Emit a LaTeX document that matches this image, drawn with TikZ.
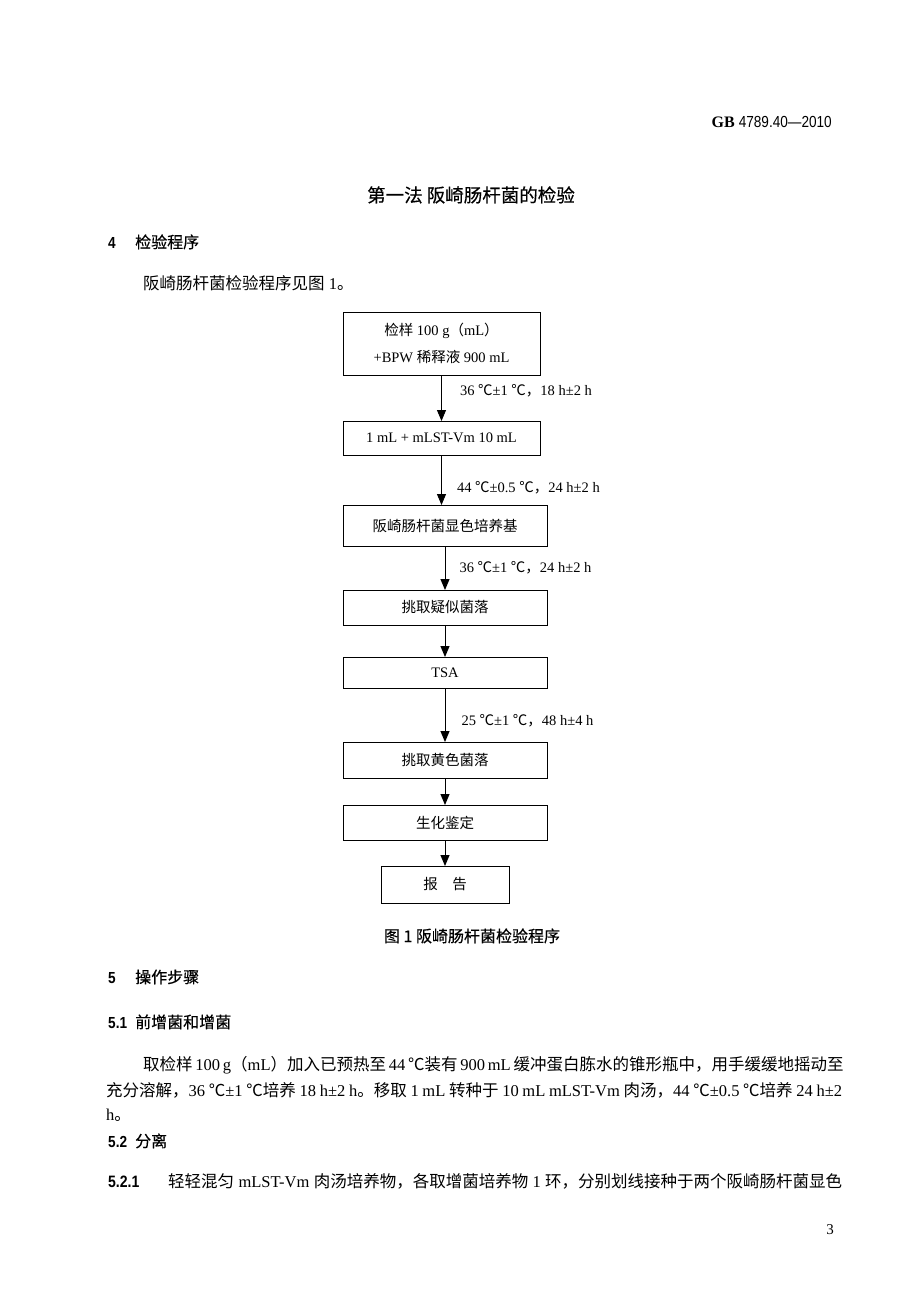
\documentclass[tikz,border=0pt]{standalone}
\usepackage{fontspec}
\usepackage{graphicx}
\setmainfont{Liberation Serif}
\newfontfamily\zhfont{Noto Sans CJK SC}
\newfontfamily\hdfont{Noto Sans CJK SC}[FakeBold=0.4]
\newfontfamily\numfont{Liberation Sans}
\newcommand\zh[1]{{\zhfont #1}}
\newcommand\nn[1]{\scalebox{0.85}[1]{\numfont #1}}
\newcommand\hn[1]{\scalebox{0.85}[1]{\numfont\bfseries #1}}
\usetikzlibrary{positioning, arrows.meta}

\begin{document}
\begin{tikzpicture}[
    x=1pt, y=1pt,
    box/.style={
        rectangle,
        draw=black, line width=1pt,
        text centered,
        inner sep=2pt, outer sep=0pt,
        minimum width=204pt,
        minimum height=35pt,
        font=\fontsize{14.5pt}{27pt}\selectfont
    },
    lbl/.style={anchor=west, inner sep=0pt, font=\fontsize{14.5pt}{17pt}\selectfont},
    arr/.style={-{Triangle[length=11pt,width=9pt]}, line width=1pt},
    txt/.style={anchor=base west, inner sep=0pt, font=\fontsize{16.5pt}{20pt}\selectfont},
    head/.style={txt, font=\fontsize{16pt}{20pt}\selectfont\hdfont}
]

\useasboundingbox (0,0) rectangle (920,-1302);

% page head
\node[anchor=base east, inner sep=0pt, font=\fontsize{16pt}{20pt}\selectfont] (hdr) at (832,-127) {\textbf{GB} \nn{4789.40—2010}};
\node[anchor=base, inner sep=0pt, font=\fontsize{18.5pt}{22pt}\selectfont\hdfont] (title) at (471,-202) {第一法 阪崎肠杆菌的检验};
\node[head] (sec4) at (108,-248) {\makebox[27pt][l]{\hn{4}}检验程序};
\node[txt] (intro) at (143,-289) {\zh{阪崎肠杆菌检验程序见图} 1\zh{。}};

% flow chart
\node[box, minimum width=197pt, minimum height=63pt, align=center] (b1) at (441.5,-343.5) {\zh{检样} 100 g\zh{（}mL\zh{）}\\+BPW \zh{稀释液} 900 mL};
\node[box, minimum width=197pt, minimum height=34pt, below=46pt of b1] (b2) {1 mL + mLST-Vm 10 mL};
\node[box, minimum height=41pt, below=50pt of b2, xshift=3.5pt] (b3) {\zh{阪崎肠杆菌显色培养基}};
\node[box, below=44pt of b3] (b4) {\zh{挑取疑似菌落}};
\node[box, minimum height=31pt, below=32pt of b4] (b5) {TSA};
\node[box, minimum height=36pt, below=54pt of b5] (b6) {\zh{挑取黄色菌落}};
\node[box, below=27pt of b6] (b7) {\zh{生化鉴定}};
\node[box, minimum width=128pt, minimum height=37pt, below=26pt of b7] (b8) {\zh{报　告}};

\draw[arr] (b1) -- (b2) node[lbl, pos=0.35, xshift=18pt] {36 \zh{℃}±1 \zh{℃，}18 h±2 h};
\draw[arr] (b2.south) -- (b2.south |- b3.north) node[lbl, pos=0.66, xshift=15pt] {44 \zh{℃}±0.5 \zh{℃，}24 h±2 h};
\draw[arr] (b3) -- (b4) node[lbl, pos=0.5, xshift=14pt] {36 \zh{℃}±1 \zh{℃，}24 h±2 h};
\draw[arr] (b4) -- (b5);
\draw[arr] (b5) -- (b6) node[lbl, pos=0.6, xshift=16pt] {25 \zh{℃}±1 \zh{℃，}48 h±4 h};
\draw[arr] (b6) -- (b7);
\draw[arr] (b7) -- (b8);

% caption and text below
\node[anchor=base, inner sep=0pt, font=\fontsize{16pt}{20pt}\selectfont\hdfont] (cap) at (472,-942) {图 1 阪崎肠杆菌检验程序};
\node[head] (sec5) at (108,-983) {\makebox[27pt][l]{\hn{5}}操作步骤};
\node[head] (sec51) at (108,-1028) {\makebox[27pt][l]{\hn{5.1}}前增菌和增菌};
\node[txt] (p1) at (143,-1070) {\makebox[699pt][s]{\zh{取检样} 100 g\zh{（}mL\zh{）加入已预热至} 44 \zh{℃装有} 900 mL \zh{缓冲蛋白胨水的锥形瓶中，用手缓缓地摇动至}}};
\node[txt] (p2) at (106,-1096) {\makebox[736pt][s]{\zh{充分溶解，}36 \zh{℃}±1 \zh{℃培养} 18 h±2 h\zh{。移取} 1 mL \zh{转种于} 10 mL mLST-Vm \zh{肉汤，}44 \zh{℃}±0.5 \zh{℃培养} 24 h±2}};
\node[txt] (p3) at (106,-1120) {h\zh{。}};
\node[head] (sec52) at (108,-1147) {\makebox[27pt][l]{\hn{5.2}}分离};
\node[txt] (p4) at (108,-1187) {\makebox[734pt][s]{\makebox[60pt][l]{\hn{5.2.1}}\zh{轻轻混匀} mLST-Vm \zh{肉汤培养物，各取增菌培养物} 1 \zh{环，分别划线接种于两个阪崎肠杆菌显色}}};
\node[anchor=base east, inner sep=0pt, font=\fontsize{15pt}{18pt}\selectfont] (pgno) at (834,-1234) {3};

\end{tikzpicture}
\end{document}
